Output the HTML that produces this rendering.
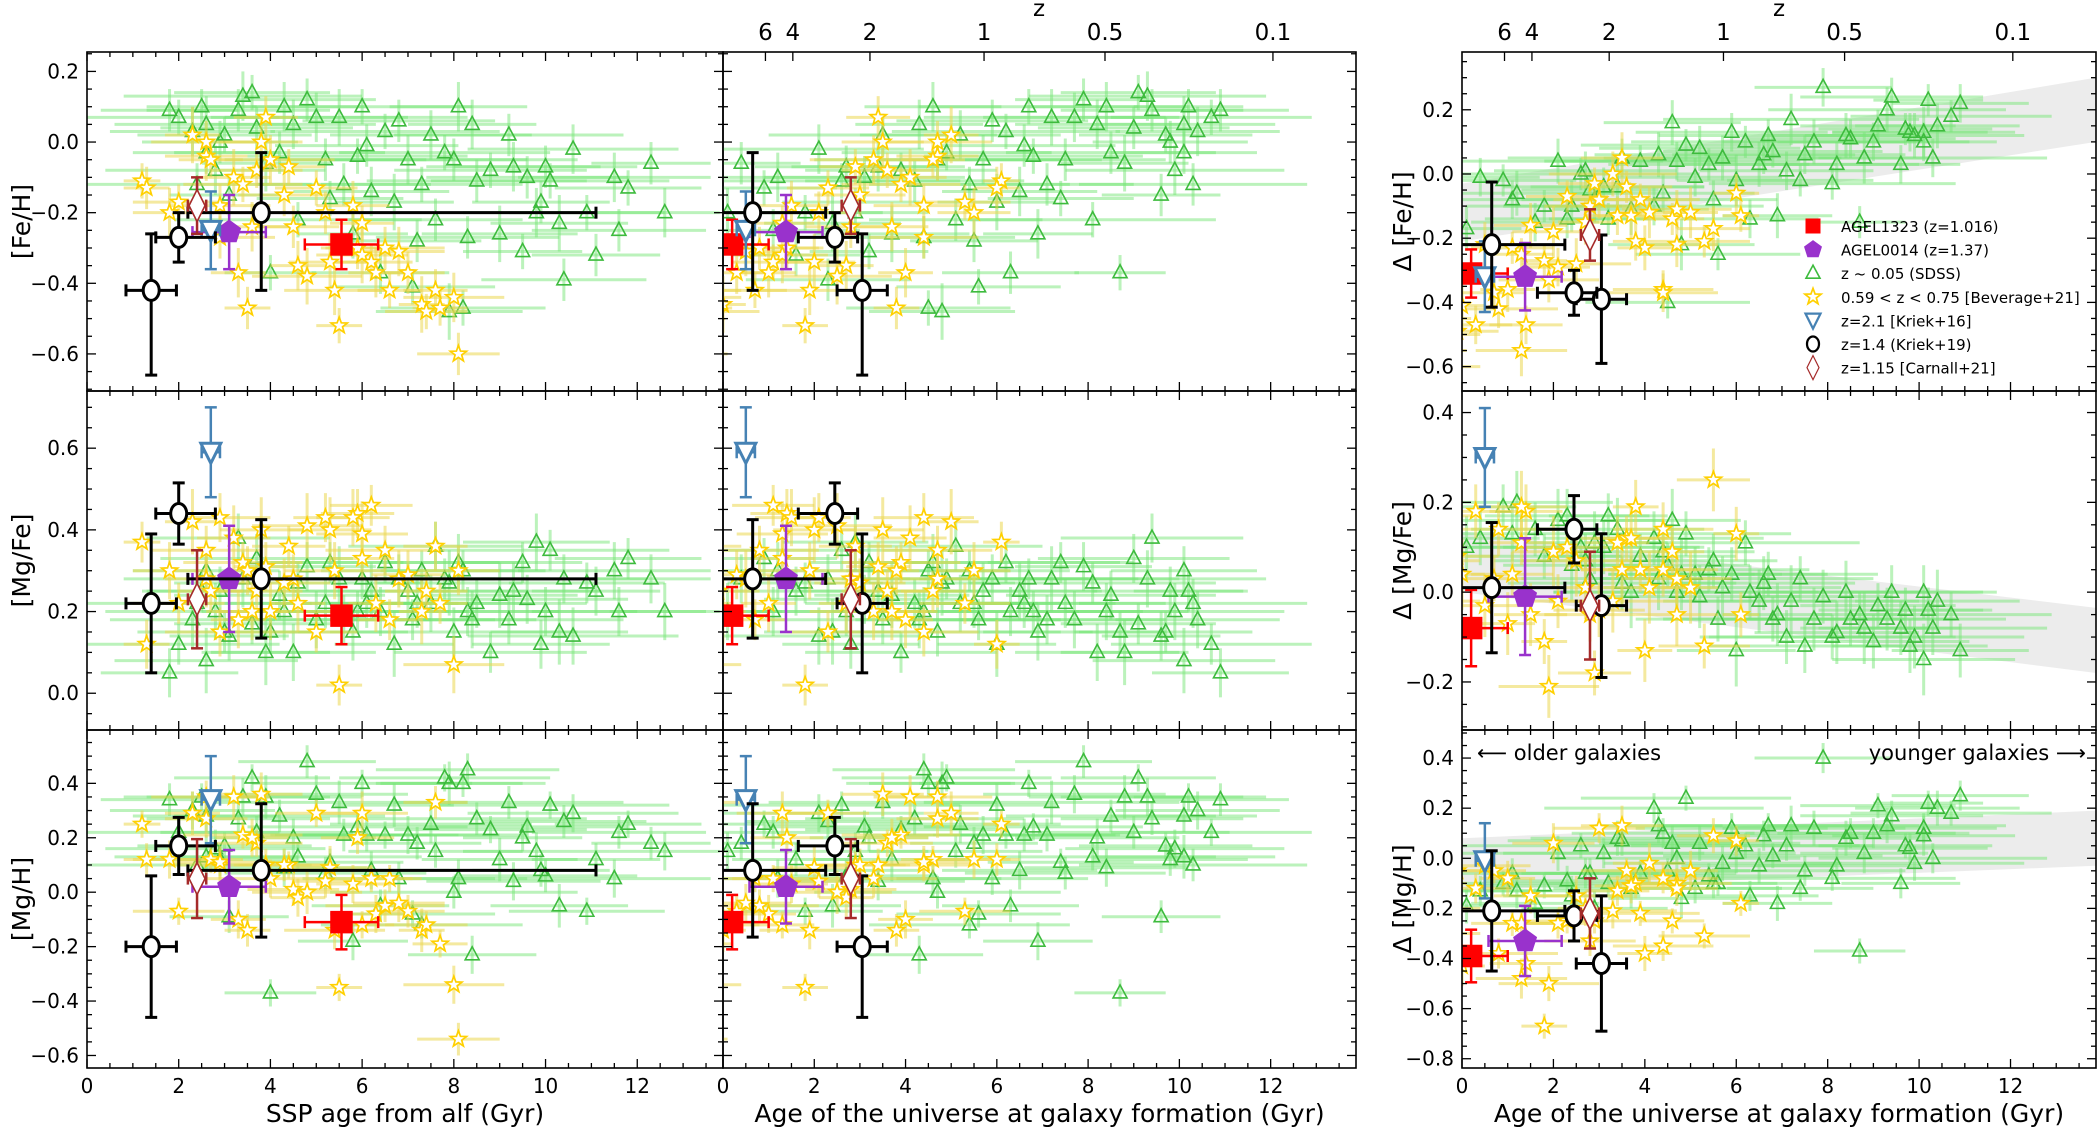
<!DOCTYPE html>
<html><head><meta charset="utf-8"><style>
html,body{margin:0;padding:0;background:#fff;}
svg{display:block;font-family:"DejaVu Sans","Liberation Sans",sans-serif;}
</style></head><body>
<svg id="fig" width="2100" height="1128" viewBox="0 0 2100 1128" xmlns="http://www.w3.org/2000/svg"></svg>
<script>
// ---------- SDSS (z~0.05) ----------
const gAge=[1.8,2.0,2.3,2.4,2.5,2.6,2.6,2.8,3.0,3.1,3.4,3.6,3.7,3.9,4.0,4.2,4.3,4.6,4.8,5.0,5.2,5.3,5.5,5.6,5.8,6.0,6.1,6.2,6.4,6.5,6.7,6.8,7.0,7.1,7.2,7.5,7.6,7.8,7.9,8.0,8.1,8.2,8.3,8.4,8.5,8.8,9.0,9.2,9.3,9.5,9.6,9.8,10.0,10.1,10.3,10.4,10.6,10.9,11.1,11.5,11.6,11.8,12.3,12.6,3.3,5.9,4.5,9.9,7.3,2.9];
const gFeh=[0.09,0.07,0.03,-0.12,0.10,0.05,-0.03,-0.08,0.02,-0.15,0.13,0.14,0.04,-0.06,-0.37,-0.03,0.10,-0.22,0.12,0.07,-0.05,-0.16,0.07,-0.12,-0.26,0.10,-0.01,-0.14,-0.37,0.03,-0.17,0.06,-0.05,-0.41,-0.28,0.02,-0.22,-0.03,-0.48,-0.05,0.10,-0.47,-0.27,0.05,-0.11,-0.08,-0.26,0.02,-0.07,-0.31,-0.10,-0.20,-0.07,-0.11,-0.23,-0.39,-0.02,-0.20,-0.32,-0.10,-0.25,-0.13,-0.06,-0.20,0.09,-0.04,0.05,-0.17,-0.12,0.00];
const gMgfe=[0.05,0.12,0.18,0.22,0.25,0.08,0.30,0.20,0.15,0.14,0.28,0.17,0.33,0.10,0.15,0.24,0.20,0.27,0.31,0.18,0.22,0.32,0.28,0.18,0.15,0.28,0.22,0.25,0.20,0.32,0.12,0.28,0.25,0.18,0.22,0.22,0.36,0.28,0.27,0.15,0.32,0.30,0.20,0.18,0.22,0.10,0.24,0.18,0.25,0.32,0.23,0.37,0.20,0.35,0.15,0.28,0.14,0.27,0.25,0.30,0.20,0.33,0.28,0.20,0.38,0.20,0.10,0.12,0.30,0.25];
const gMgh=[0.34,0.22,0.30,0.10,0.35,0.13,0.28,0.16,0.17,-0.09,0.35,0.42,0.22,0.35,-0.37,0.28,0.09,0.13,0.48,0.36,0.07,0.11,0.33,0.21,-0.18,0.40,0.21,0.08,-0.05,0.21,0.32,0.05,0.21,-0.08,0.18,0.25,0.15,0.42,0.40,0.00,0.05,0.40,0.45,-0.23,0.27,0.23,0.12,0.33,0.04,0.20,0.24,0.15,0.06,0.32,-0.05,0.26,0.29,-0.07,0.12,0.05,0.22,0.25,0.18,0.15,0.27,0.24,0.20,0.08,-0.12,0.12];
const gDfeh=[0.22,0.18,0.15,0.05,0.23,0.13,0.10,0.12,0.14,0.03,0.20,0.15,0.10,0.05,-0.15,0.11,0.12,-0.03,0.27,0.10,0.06,-0.02,0.17,0.01,-0.13,0.12,0.06,0.03,-0.14,0.10,-0.02,0.13,0.05,-0.25,-0.08,0.08,-0.01,0.09,-0.22,0.04,0.16,-0.40,-0.06,0.06,-0.10,0.04,-0.11,0.05,-0.04,-0.14,-0.04,-0.08,0.01,0.00,-0.10,-0.14,0.04,-0.10,-0.15,-0.06,-0.08,-0.02,-0.01,-0.17,0.24,0.07,0.03,-0.05,0.03,0.13];
const gDmgfe=[-0.13,-0.05,-0.02,-0.08,-0.04,-0.15,0.00,-0.10,-0.04,-0.08,-0.06,-0.03,-0.11,-0.08,-0.05,-0.06,0.00,-0.10,-0.01,-0.06,-0.12,0.03,-0.02,-0.10,-0.05,0.04,0.02,-0.02,0.00,0.11,-0.13,0.04,0.01,-0.06,0.07,-0.01,0.04,0.13,0.04,0.00,0.16,0.06,0.09,0.03,0.12,0.08,0.00,0.02,0.14,0.17,0.10,0.11,0.07,0.10,0.06,0.17,0.16,0.08,0.14,0.20,0.13,0.19,0.12,0.10,0.00,-0.06,-0.09,0.03,0.05,-0.12];
const gDmgh=[0.25,0.18,0.20,0.00,0.22,0.09,0.12,-0.02,0.05,-0.10,0.13,0.21,0.10,0.02,-0.37,0.10,0.08,-0.08,0.40,0.12,-0.05,-0.12,0.13,0.05,-0.18,0.13,0.09,-0.03,-0.15,0.05,0.02,0.12,-0.02,-0.10,-0.10,0.06,-0.12,0.24,-0.16,0.00,0.06,-0.05,0.10,0.13,0.20,-0.06,-0.12,0.07,0.08,-0.10,0.02,-0.20,-0.06,0.05,-0.15,-0.09,0.02,-0.11,-0.18,-0.13,-0.06,-0.10,-0.13,-0.19,0.17,0.01,-0.03,-0.06,-0.07,0.04];
const gXerr=[1.5,2.2,1.8,2.5,1.2,2.0,1.6,2.4,1.9,1.3,2.6,1.7,2.1,1.4,1.0,2.3,1.8,2.7,1.5,2.0,2.2,1.6,2.8,1.9,1.2,2.4,2.0,1.7,1.5,2.5,1.3,2.1,2.6,1.8,1.4,2.2,1.9,2.3,1.6,2.7,1.5,1.8,2.0,1.4,2.4,2.1,1.7,2.5,1.9,1.3,2.2,1.6,2.0,2.6,1.5,1.8,2.3,1.7,1.4,2.1,1.9,1.6,1.3,1.2,2.0,2.4,1.8,1.5,2.2,1.7];
const gYerr=[0.06,0.05,0.07,0.06,0.05,0.08,0.06,0.07,0.05,0.06,0.07,0.05,0.06,0.08,0.05,0.06,0.07,0.05,0.06,0.07,0.06,0.05,0.08,0.06,0.07,0.05,0.06,0.07,0.06,0.05,0.08,0.06,0.07,0.05,0.06,0.07,0.06,0.05,0.08,0.06,0.07,0.05,0.06,0.07,0.06,0.05,0.08,0.06,0.07,0.05,0.06,0.07,0.06,0.05,0.08,0.06,0.07,0.05,0.06,0.07,0.06,0.05,0.06,0.07,0.06,0.05,0.07,0.06,0.05,0.06];
const gTU=12.7;
// ---------- Beverage+21 (0.59<z<0.75) ----------
const sAge=[1.2,1.3,1.8,2.0,2.3,2.6,2.6,2.7,2.9,3.2,3.4,3.3,3.5,3.7,3.8,3.9,4.0,4.4,4.5,4.6,4.8,5.0,5.2,5.4,5.5,5.9,6.0,6.2,6.3,6.5,6.6,6.8,7.0,7.3,7.4,7.6,8.0,8.1,7.7,5.8,4.3,6.0,5.3,2.9,3.6];
const sFeh=[-0.11,-0.13,-0.20,-0.17,0.02,0.00,-0.04,-0.05,-0.18,-0.10,-0.12,-0.37,-0.47,-0.08,0.00,0.07,-0.05,-0.07,-0.24,-0.35,-0.38,-0.13,-0.20,-0.42,-0.52,-0.30,-0.32,-0.34,-0.37,-0.30,-0.42,-0.31,-0.37,-0.46,-0.48,-0.42,-0.44,-0.60,-0.47,-0.18,-0.15,-0.23,-0.34,-0.27,-0.24];
const sMgfe=[0.37,0.12,0.30,0.22,0.42,0.35,0.28,0.25,0.43,0.38,0.32,0.18,0.30,0.25,0.40,0.31,0.20,0.36,0.28,0.22,0.41,0.15,0.43,0.30,0.02,0.44,0.39,0.46,0.22,0.35,0.18,0.28,0.29,0.20,0.25,0.36,0.07,0.30,0.22,0.43,0.27,0.33,0.40,0.15,0.20];
const sMgh=[0.25,0.12,0.12,-0.07,0.29,0.35,0.27,0.12,0.10,0.35,0.21,-0.10,-0.14,0.18,0.36,0.10,0.05,0.10,0.01,-0.02,0.00,0.29,0.04,-0.14,-0.35,0.20,0.29,0.05,-0.08,-0.05,0.05,-0.04,-0.07,-0.14,-0.12,0.33,-0.34,-0.54,-0.19,0.03,0.10,-0.12,0.09,0.11,0.20];
const sDfeh=[-0.13,-0.06,-0.17,-0.21,-0.12,-0.11,-0.22,-0.14,-0.36,-0.12,-0.08,-0.23,-0.21,-0.04,0.05,-0.13,0.00,-0.03,-0.10,-0.15,-0.28,-0.07,-0.29,-0.33,-0.27,-0.47,-0.55,-0.23,-0.36,-0.42,-0.37,-0.22,-0.47,-0.41,-0.49,-0.50,-0.60,-0.55,-0.45,-0.16,-0.08,-0.25,-0.18,-0.37,-0.13];
const sDmgfe=[-0.05,0.13,0.25,-0.12,0.01,0.03,-0.05,0.09,0.14,0.01,0.05,-0.13,0.19,0.12,0.05,0.11,-0.02,-0.18,-0.05,0.01,0.07,0.10,-0.02,-0.21,-0.11,0.18,0.19,0.04,-0.07,0.14,0.03,-0.03,0.18,0.04,0.08,0.07,-0.02,0.04,0.17,-0.05,-0.04,0.11,0.09,0.05,0.12];
const sDmgh=[-0.18,0.07,0.09,-0.31,-0.05,-0.10,-0.12,-0.25,-0.35,-0.02,-0.22,-0.38,-0.10,-0.05,0.13,-0.13,-0.21,-0.25,-0.33,-0.20,-0.15,-0.25,-0.26,-0.50,-0.67,-0.42,-0.48,-0.26,-0.08,-0.38,-0.05,-0.03,-0.12,-0.43,-0.05,-0.30,-0.20,-0.10,-0.35,-0.15,0.12,-0.26,0.06,-0.08,-0.11];
const sXerr=[0.4,0.5,0.8,1.0,0.6,1.2,0.9,0.7,1.1,0.8,1.3,0.6,0.5,1.0,0.9,0.7,1.4,0.8,1.0,0.6,1.2,0.9,0.7,1.1,0.5,0.8,1.0,0.9,0.6,1.3,0.7,1.0,0.8,0.5,0.9,0.7,1.1,0.9,0.6,0.8,1.0,0.7,0.9,1.2,0.8];
const sYerr=[0.05,0.06,0.07,0.05,0.08,0.06,0.07,0.05,0.06,0.08,0.05,0.07,0.06,0.05,0.08,0.06,0.07,0.05,0.06,0.07,0.08,0.05,0.06,0.07,0.05,0.06,0.08,0.05,0.07,0.06,0.05,0.07,0.06,0.08,0.05,0.06,0.07,0.06,0.05,0.07,0.06,0.05,0.08,0.06,0.07];
const sTU=7.3;
// ---------- individual measurements ----------
const pType=['sq','pent','dtri','circ','circ','circ','diam'];
const pTU=[5.75,4.48,3.2,4.45,4.45,4.45,5.2];
const pAge=[5.55,3.1,2.7,1.4,2.0,3.8,2.4];
const pAgeLo=[0.8,0.8,0.2,0.55,0.5,1.6,0.2];
const pAgeHi=[0.8,0.8,0.2,0.55,0.8,7.3,0.2];
const pFeh=[-0.29,-0.255,-0.25,-0.42,-0.27,-0.20,-0.18];
const pFehLo=[0.07,0.105,0.11,0.24,0.07,0.22,0.08];
const pFehHi=[0.07,0.105,0.11,0.16,0.07,0.17,0.08];
const pMgfe=[0.19,0.28,0.59,0.22,0.44,0.28,0.23];
const pMgfeErr=[0.07,0.13,0.11,0.17,0.075,0.145,0.12];
const pMgh=[-0.11,0.02,0.34,-0.20,0.17,0.08,0.05];
const pMghErr=[0.10,0.135,0.16,0.26,0.105,0.245,0.145];
const pDfeh=[-0.31,-0.32,-0.32,-0.39,-0.37,-0.22,-0.19];
const pDfehErr=[0.075,0.105,0.11,0.2,0.07,0.195,0.08];
const pDmgfe=[-0.08,-0.01,0.30,-0.03,0.14,0.01,-0.03];
const pDmgfeErr=[0.085,0.13,0.11,0.16,0.075,0.145,0.12];
const pDmgh=[-0.39,-0.33,-0.01,-0.42,-0.23,-0.21,-0.22];
const pDmghErr=[0.105,0.14,0.15,0.27,0.1,0.24,0.14];
// ---------- bands (col 3) ----------
const bandFeh=[[-0.03,-0.21],[0.30,0.10]];
const bandMgfe=[[0.135,0.0],[-0.035,-0.18]];
const bandMgh=[[0.08,-0.13],[0.19,-0.03]];
const zLabels=['6','4','2','1','0.5','0.1'];
const zAges=[0.93,1.53,3.22,5.72,8.37,12.05];
const xTicks=[0,2,4,6,8,10,12];

const NS='http://www.w3.org/2000/svg';
const svg=document.getElementById('fig');
function el(tag,attrs,parent){const e=document.createElementNS(NS,tag);for(const k in attrs)e.setAttribute(k,attrs[k]);(parent||svg).appendChild(e);return e;}
const XMAX=13.87;
const cols=[[87,723],[723,1356],[1462,2096]];
const rows=[[52,391],[391,730],[730,1068]];
const ylims=[[[-0.705,0.255],[-0.09,0.74],[-0.646,0.596]],[[-0.676,0.38],[-0.307,0.448],[-0.837,0.512]]];
const yTickSets=[[[-0.6,-0.4,-0.2,0.0,0.2],[0.0,0.2,0.4,0.6],[-0.6,-0.4,-0.2,0.0,0.2,0.4]],[[-0.6,-0.4,-0.2,0.0,0.2],[-0.2,0.0,0.2,0.4],[-0.8,-0.6,-0.4,-0.2,0.0,0.2,0.4]]];
const yNames=[['[Fe/H]','[Mg/Fe]','[Mg/H]'],['Δ [Fe/H]','Δ [Mg/Fe]','Δ [Mg/H]']];
const fmt=v=>v.toFixed(1).replace('-','−');

function marker(g,type,cx,cy){
  let m;
  if(type==='tri'){m=el('polygon',{points:`${cx},${cy-8} ${cx-7},${cy+5} ${cx+7},${cy+5}`,fill:'none',stroke:'#3dbb3d','stroke-width':1.6},g);}
  else if(type==='star'){let p=[];for(let i=0;i<10;i++){const r=i%2?3.5:8.5;const a=-Math.PI/2+i*Math.PI/5;p.push((cx+r*Math.cos(a)).toFixed(1)+','+(cy+r*Math.sin(a)).toFixed(1));}
    m=el('polygon',{points:p.join(' '),fill:'#fff',stroke:'#ffd000','stroke-width':1.7},g);}
  else if(type==='sq'){m=el('rect',{x:cx-10,y:cy-10,width:20,height:20,fill:'#ff0000'},g);}
  else if(type==='pent'){let p=[];for(let i=0;i<5;i++){const a=-Math.PI/2+i*2*Math.PI/5;p.push((cx+12*Math.cos(a)).toFixed(1)+','+(cy+12*Math.sin(a)).toFixed(1));}
    m=el('polygon',{points:p.join(' '),fill:'#9932cc',stroke:'#9932cc','stroke-width':1},g);}
  else if(type==='circ'){m=el('ellipse',{cx:cx,cy:cy,rx:8,ry:10,fill:'#fff',stroke:'#000','stroke-width':3},g);}
  else if(type==='dtri'){m=el('polygon',{points:`${cx-10},${cy-9} ${cx+10},${cy-9} ${cx},${cy+11}`,fill:'#fff',stroke:'#4682b4','stroke-width':3},g);}
  else if(type==='diam'){m=el('polygon',{points:`${cx},${cy-16} ${cx+8},${cy} ${cx},${cy+16} ${cx-8},${cy}`,fill:'#fff',stroke:'#a52a2a','stroke-width':1.6},g);}
  return m;
}
const pColor={sq:'#ff0000',pent:'#9932cc',dtri:'#4682b4',circ:'#000',diam:'#a52a2a'};
const pName=['agel1323','agel0014','kriek16','kriek19-a','kriek19-b','kriek19-c','carnall21'];

let clipId=0;
for(let c=0;c<3;c++){
  for(let r=0;r<3;r++){
    const [x0,x1]=cols[c],[y0,y1]=rows[r];
    const yl=ylims[c===2?1:0][r];
    const sx=v=>x0+v/XMAX*(x1-x0);
    const sy=v=>y1-(v-yl[0])/(yl[1]-yl[0])*(y1-y0);
    const panel=el('g',{});
    
    
    const cid='clip'+(clipId++);
    const cp=el('clipPath',{id:cid},panel);el('rect',{x:x0,y:y0,width:x1-x0,height:y1-y0},cp);
    const plot=el('g',{'clip-path':`url(#${cid})`},panel);
    if(c===2){const b=[bandFeh,bandMgfe,bandMgh][r];
      const band=el('polygon',{points:`${sx(0)},${sy(b[0][0])} ${sx(XMAX)},${sy(b[1][0])} ${sx(XMAX)},${sy(b[1][1])} ${sx(0)},${sy(b[0][1])}`,fill:'#e4e4e4','fill-opacity':0.7},plot);
      
      }
    const gY=c===2?[gDfeh,gDmgfe,gDmgh][r]:[gFeh,gMgfe,gMgh][r];
    const sY=c===2?[sDfeh,sDmgfe,sDmgh][r]:[sFeh,sMgfe,sMgh][r];
    const gx=i=>c===0?gAge[i]:gTU-gAge[i];
    const stx=i=>c===0?sAge[i]:sTU-sAge[i];
    const gE=el('g',{stroke:'rgba(120,230,120,0.5)','stroke-width':3},plot);
    
    
    for(let i=0;i<gAge.length;i++){const X=gx(i),Y=gY[i];
      el('line',{x1:sx(X-gXerr[i]),x2:sx(X+gXerr[i]),y1:sy(Y),y2:sy(Y)},gE);
      el('line',{x1:sx(X),x2:sx(X),y1:sy(Y-gYerr[i]),y2:sy(Y+gYerr[i])},gE);}
    const gM=el('g',{},plot);
    
    
    for(let i=0;i<gAge.length;i++){const m=marker(gM,'tri',sx(gx(i)),sy(gY[i]));
      
      }
    const sE=el('g',{stroke:'rgba(235,215,80,0.55)','stroke-width':3},plot);
    
    
    for(let i=0;i<sAge.length;i++){const X=stx(i),Y=sY[i];
      el('line',{x1:sx(X-sXerr[i]),x2:sx(X+sXerr[i]),y1:sy(Y),y2:sy(Y)},sE);
      el('line',{x1:sx(X),x2:sx(X),y1:sy(Y-sYerr[i]),y2:sy(Y+sYerr[i])},sE);}
    const sM=el('g',{},plot);
    
    
    for(let i=0;i<sAge.length;i++){const m=marker(sM,'star',sx(stx(i)),sy(sY[i]));
      
      }
    const pV=c===2?[pDfeh,pDmgfe,pDmgh][r]:[pFeh,pMgfe,pMgh][r];
    const pLo=c===2?[pDfehErr,pDmgfeErr,pDmghErr][r]:[pFehLo,pMgfeErr,pMghErr][r];
    const pHi=c===2?[pDfehErr,pDmgfeErr,pDmghErr][r]:[pFehHi,pMgfeErr,pMghErr][r];
    for(let i=0;i<pType.length;i++){
      const col=pColor[pType[i]];const lw=pType[i]==='circ'?3:2.5;
      let X,xl,xh;
      if(c===0){X=pAge[i];xl=X-pAgeLo[i];xh=X+pAgeHi[i];}
      else{X=pTU[i]-pAge[i];xl=X-pAgeHi[i];xh=X+pAgeLo[i];}
      const Y=pV[i],yl0=Y-pLo[i],yh=Y+pHi[i];
      const g=el('g',{stroke:col,'stroke-width':lw},plot);
      
      
      el('line',{x1:sx(xl),x2:sx(xh),y1:sy(Y),y2:sy(Y)},g);
      el('line',{x1:sx(X),x2:sx(X),y1:sy(yl0),y2:sy(yh)},g);
      for(const xv of [xl,xh])el('line',{x1:sx(xv),x2:sx(xv),y1:sy(Y)-6,y2:sy(Y)+6},g);
      for(const yv of [yl0,yh])el('line',{x1:sx(X)-6,x2:sx(X)+6,y1:sy(yv),y2:sy(yv)},g);
      marker(g,pType[i],sx(X),sy(Y));
    }
    el('rect',{x:x0,y:y0,width:x1-x0,height:y1-y0,fill:'none',stroke:'#000','stroke-width':1.6},panel);
    const tk=el('g',{stroke:'#000','stroke-width':1.3},panel);
    for(let v=0;v<=XMAX;v+=0.5){const X=sx(v);const maj=Math.abs(v%2)<1e-6;const L=maj?9:5;
      el('line',{x1:X,x2:X,y1:y1,y2:y1-L},tk);
      if(c===0||r>0) el('line',{x1:X,x2:X,y1:y0,y2:y0+L},tk);}
    if(c>0&&r===0){for(const a of zAges){el('line',{x1:sx(a),x2:sx(a),y1:y0,y2:y0+9},tk);}}
    for(let v=Math.ceil(yl[0]/0.05)*0.05;v<=yl[1];v+=0.05){const Y=sy(v);const maj=Math.abs(Math.round(v/0.2)*0.2-v)<1e-6;const L=maj?9:5;
      el('line',{x1:x0,x2:x0+L,y1:Y,y2:Y},tk);el('line',{x1:x1,x2:x1-L,y1:Y,y2:Y},tk);}
    if(c!==1){for(const v of yTickSets[c===2?1:0][r]){const t=el('text',{x:x0-8,y:sy(v)+7,'text-anchor':'end','font-size':20},panel);t.textContent=fmt(v);
      
      }
      const yc=(y0+y1)/2,xx=c===0?30:1411;
      const t=el('text',{x:xx,y:yc,'text-anchor':'middle','font-size':25,transform:`rotate(-90 ${xx} ${yc})`},panel);t.textContent=yNames[c===2?1:0][r];
      
      }
    if(r===2){for(const v of xTicks){const t=el('text',{x:sx(v),y:1093,'text-anchor':'middle','font-size':20},panel);t.textContent=v;
      
      }
      const t=el('text',{x:(x0+x1)/2,y:1122,'text-anchor':'middle','font-size':25},panel);t.textContent=c===0?'SSP age from alf (Gyr)':'Age of the universe at galaxy formation (Gyr)';
      
      }
    if(c>0&&r===0){for(let k=0;k<zLabels.length;k++){const t=el('text',{x:sx(zAges[k]),y:y0-12,'text-anchor':'middle','font-size':23},panel);t.textContent=zLabels[k];
      
      }
      const t=el('text',{x:c===1?1039:1779,y:16,'text-anchor':'middle','font-size':23},panel);t.textContent='z';
      
      }
  }
}
const legLabels=['AGEL1323 (z=1.016)','AGEL0014 (z=1.37)','z ~ 0.05 (SDSS)','0.59 < z < 0.75 [Beverage+21]','z=2.1 [Kriek+16]','z=1.4 (Kriek+19)','z=1.15 [Carnall+21]'];
const legTypes=['sq','pent','tri','star','dtri','circ','diam'];
const leg=el('g',{});


for(let i=0;i<legLabels.length;i++){const y=226+i*23.6;
  const e=el('g',{},leg);
  
  
  const t=legTypes[i];
  if(t==='tri'||t==='star'){marker(e,t,1813,y);}
  else{const m=el('g',{transform:`translate(1813 ${y}) scale(0.75) translate(-1813 ${-y})`},e);marker(m,t,1813,y);}
  const tx=el('text',{x:1841,y:y+6,'font-size':15},e);tx.textContent=legLabels[i];}
const a1=el('text',{x:1477,y:760,'font-size':21});a1.textContent='⟵  older galaxies';


const a2=el('text',{x:2086,y:760,'font-size':21,'text-anchor':'end'});a2.textContent='younger galaxies  ⟶';


</script>
</body></html>
